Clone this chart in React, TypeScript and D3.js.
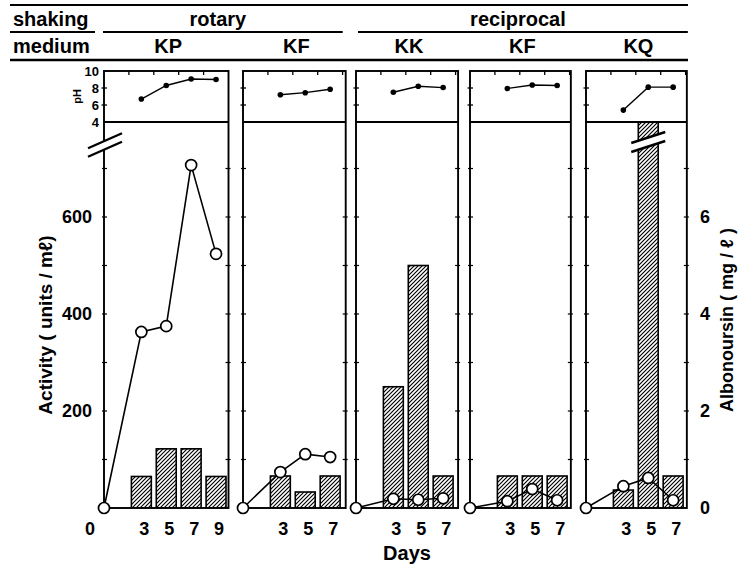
import React from 'react';
import * as d3 from 'd3';

// ---- data ----
const shakingGroups = ['rotary', 'reciprocal'];
const panelMedia = ['KP', 'KF', 'KK', 'KF', 'KQ'];

const daysLong = [0, 3, 5, 7, 9];
const daysShort = [0, 3, 5, 7];

// activity (units / ml), open circles
const actKP = [0, 363, 375, 707, 524];
const actKFrot = [0, 74, 111, 105];
const actKK = [0, 19, 17, 20];
const actKFrec = [0, 14, 39, 16];
const actKQ = [0, 45, 62, 16];

// albonoursin (mg / l), hatched bars on days 3,5,7(,9)
const albKP = [0.65, 1.22, 1.22, 0.65];
const albKFrot = [0.66, 0.33, 0.66];
const albKK = [2.5, 5.0, 0.66];
const albKFrec = [0.66, 0.66, 0.66];
const albKQ = [0.37, 9.5, 0.66]; // middle bar runs off scale

// pH, filled dots on days 3,5,7(,9)
const phKP = [6.7, 8.3, 9.05, 9.0];
const phKFrot = [7.2, 7.45, 7.85];
const phKK = [7.5, 8.2, 8.05];
const phKFrec = [7.95, 8.35, 8.3];
const phKQ = [5.4, 8.1, 8.1];

const actTicks = [200, 400, 600];
const albTicks = [0, 2, 4, 6];
const phTicks = [10, 8, 6, 4];

const panels = [
  { days: daysLong, act: actKP, alb: albKP, ph: phKP },
  { days: daysShort, act: actKFrot, alb: albKFrot, ph: phKFrot },
  { days: daysShort, act: actKK, alb: albKK, ph: phKK },
  { days: daysShort, act: actKFrec, alb: albKFrec, ph: phKFrec },
  { days: daysShort, act: actKQ, alb: albKQ, ph: phKQ },
];

// ---- layout ----
const W = 739;
const H = 565;
const panelLeft = [104, 243, 356, 470, 586];
const panelDayMax = [10, 8.25, 8.2, 8.1, 8.1];
const pxPerDay = 12.45;
const font = "'Liberation Sans', Arial, Helvetica, sans-serif";

const yAct = d3.scaleLinear().domain([0, 600]).range([508, 217]);
const yAlb = d3.scaleLinear().domain([0, 6]).range([508, 217]);
const yPH = d3.scaleLinear().domain([4, 10]).range([122, 71]);
const mainTop = yPH.range()[0];
const mainBottom = yAct(0);
const phTop = yPH(10);

function BreakMark({ cx, cy, half, rise, gap }) {
  const a = [cx - half, cy - gap / 2 + rise];
  const b = [cx + half, cy - gap / 2 - rise];
  const c = [cx + half, cy + gap / 2 - rise];
  const d = [cx - half, cy + gap / 2 + rise];
  return (
    <g>
      <polygon points={[a, b, c, d].map((p) => p.join(',')).join(' ')} fill="#fff" />
      <line x1={a[0]} y1={a[1]} x2={b[0]} y2={b[1]} stroke="#000" strokeWidth={2.4} />
      <line x1={d[0]} y1={d[1]} x2={c[0]} y2={c[1]} stroke="#000" strokeWidth={2.4} />
    </g>
  );
}

function Panel({ i, data }) {
  const left = panelLeft[i];
  const x = d3.scaleLinear().domain([0, panelDayMax[i]]).range([left, left + panelDayMax[i] * pxPerDay]);
  const [x0, x1] = x.range();
  const barDays = data.days.slice(1);
  const barHalf = 0.8;
  const actLine = d3.line().x((d) => x(d[0])).y((d) => yAct(d[1]));
  const phLine = d3.line().x((d) => x(d[0])).y((d) => yPH(d[1]));
  const actPts = data.days.map((d, k) => [d, data.act[k]]);
  const phPts = barDays.map((d, k) => [d, data.ph[k]]);
  const minor = d3.range(100, 800, 100);
  const topTicks = d3.range(2, panelDayMax[i], 2);
  return (
    <g>
      <clipPath id={`clip${i}`}>
        <rect x={x0} y={mainTop} width={x1 - x0} height={mainBottom - mainTop} />
      </clipPath>
      <g clipPath={`url(#clip${i})`}>
        {barDays.map((d, k) => (
          <rect
            key={k}
            x={x(d - barHalf)}
            y={yAlb(data.alb[k])}
            width={x(d + barHalf) - x(d - barHalf)}
            height={mainBottom - yAlb(data.alb[k])}
            fill="url(#hatch)"
            stroke="#000"
            strokeWidth={1.6}
          />
        ))}
      </g>
      {/* frame */}
      <rect x={x0} y={phTop} width={x1 - x0} height={mainBottom - phTop} fill="none" stroke="#000" strokeWidth={1.9} />
      <line x1={x0} x2={x1} y1={mainTop} y2={mainTop} stroke="#000" strokeWidth={1.9} />
      {minor.map((v) => (
        <g key={v}>
          <line x1={x0 - 2} x2={x0 + 3} y1={yAct(v)} y2={yAct(v)} stroke="#000" strokeWidth={1.2} />
          <line x1={x1 - 3} x2={x1 + 2} y1={yAct(v)} y2={yAct(v)} stroke="#000" strokeWidth={1.2} />
        </g>
      ))}
      {[6, 8].map((v) => (
        <line key={v} x1={x0 - 2.5} x2={x0 + 3} y1={yPH(v)} y2={yPH(v)} stroke="#000" strokeWidth={1.3} />
      ))}
      {topTicks.map((d) => (
        <line key={d} x1={x(d)} x2={x(d)} y1={phTop} y2={phTop + 4} stroke="#000" strokeWidth={1.3} />
      ))}
      {/* pH */}
      <path d={phLine(phPts)} fill="none" stroke="#000" strokeWidth={1.4} />
      {phPts.map((p, k) => (
        <circle key={k} cx={x(p[0])} cy={yPH(p[1])} r={2.8} fill="#000" />
      ))}
      {/* activity */}
      <path d={actLine(actPts)} fill="none" stroke="#000" strokeWidth={1.6} />
      {actPts.map((p, k) => (
        <circle key={k} cx={x(p[0])} cy={yAct(p[1])} r={5.5} fill="#fff" stroke="#000" strokeWidth={1.7} />
      ))}
      {/* day labels */}
      {barDays.map((d) => (
        <text key={d} x={x(d) + 3} y={535} textAnchor="middle" fontSize={18} fontWeight="bold">
          {d}
        </text>
      ))}
      <text x={(x0 + x1) / 2 + 2} y={53} textAnchor="middle" fontSize={20} fontWeight="bold">
        {panelMedia[i]}
      </text>
    </g>
  );
}

export default function App() {
  const panelRight = panelLeft.map((l, i) => l + panelDayMax[i] * pxPerDay);
  const groupLines = [
    [panelLeft[0] - 1, panelRight[1] - 3],
    [panelLeft[2] + 2, panelRight[4] + 1],
  ];
  const kqX = d3.scaleLinear().domain([0, panelDayMax[4]]).range([panelLeft[4], panelRight[4]]);
  return (
    <svg
      width={W}
      height={H}
      style={{ position: 'absolute', left: 0, top: 0, background: '#fff' }}
      fontFamily={font}
    >
      <defs>
        <pattern id="hatch" patternUnits="userSpaceOnUse" width={4} height={4}>
          <path d="M-1,1 l2,-2 M0,4 l4,-4 M3,5 l2,-2" stroke="#000" strokeWidth={1.15} />
        </pattern>
      </defs>
      <rect width={W} height={H} fill="#fff" />

      {/* header table */}
      <line x1={10} x2={688} y1={5} y2={5} stroke="#000" strokeWidth={1.8} />
      <text x={13} y={26} fontSize={20} fontWeight="bold">shaking</text>
      <line x1={10} x2={95} y1={32} y2={32} stroke="#000" strokeWidth={1.8} />
      {shakingGroups.map((g, k) => (
        <g key={g}>
          <text x={(groupLines[k][0] + groupLines[k][1]) / 2 - 5} y={26} textAnchor="middle" fontSize={20} fontWeight="bold">
            {g}
          </text>
          <line x1={groupLines[k][0]} x2={groupLines[k][1]} y1={32} y2={32} stroke="#000" strokeWidth={1.8} />
        </g>
      ))}
      <text x={13} y={53} fontSize={20} fontWeight="bold">medium</text>
      <line x1={10} x2={688} y1={60} y2={60} stroke="#000" strokeWidth={2.6} />

      {panels.map((p, i) => (
        <Panel key={i} i={i} data={p} />
      ))}

      {/* pH axis */}
      {phTicks.map((v) => (
        <text key={v} x={99} y={yPH(v)} dy="0.36em" textAnchor="end" fontSize={13} fontWeight="bold">
          {v}
        </text>
      ))}
      <text transform={`translate(81, ${yPH(7)}) rotate(-90)`} textAnchor="middle" fontSize={11} fontWeight="bold">
        pH
      </text>

      {/* activity axis */}
      {actTicks.map((v) => (
        <text key={v} x={92} y={yAct(v)} dy="0.36em" textAnchor="end" fontSize={18} fontWeight="bold">
          {v}
        </text>
      ))}
      <text x={90} y={535} textAnchor="middle" fontSize={18} fontWeight="bold">0</text>
      <text transform={`translate(52, 325) rotate(-90)`} textAnchor="middle" fontSize={19} fontWeight="bold">
        {'Activity  ( units / mℓ)'}
      </text>

      {/* albonoursin axis */}
      {albTicks.map((v) => (
        <text key={v} x={705} y={yAlb(v)} dy="0.36em" textAnchor="middle" fontSize={18} fontWeight="bold">
          {v}
        </text>
      ))}
      <text transform={`translate(733, 320) rotate(-90)`} textAnchor="middle" fontSize={18} fontWeight="bold">
        {'Albonoursin ( mg / ℓ )'}
      </text>

      <text x={407} y={560} textAnchor="middle" fontSize={20} fontWeight="bold">Days</text>

      {/* axis breaks */}
      <BreakMark cx={panelLeft[0] + 1} cy={145} half={17} rise={7.5} gap={8.5} />
      <BreakMark cx={(kqX(4.2) + kqX(5.8)) / 2} cy={142} half={17} rise={5.5} gap={9} />
    </svg>
  );
}
